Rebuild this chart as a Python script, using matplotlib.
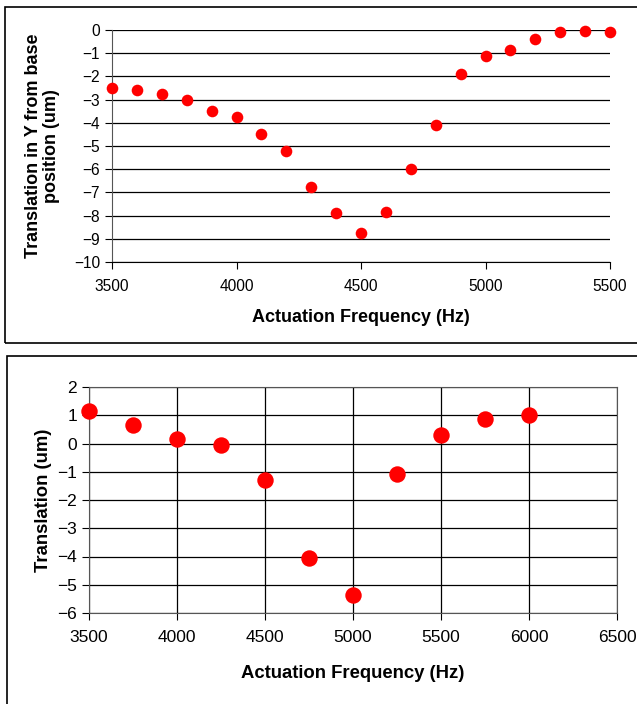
import matplotlib.pyplot as plt
from matplotlib.patches import Rectangle

plt.rcParams['font.family'] = ['Liberation Sans', 'DejaVu Sans']

# top chart data
freq_top = [3500, 3600, 3700, 3800, 3900, 4000, 4100, 4200, 4300, 4400, 4500,
            4600, 4700, 4800, 4900, 5000, 5100, 5200, 5300, 5400, 5500]
trans_top = [-2.5, -2.6, -2.78, -3.0, -3.47, -3.73, -4.48, -5.2, -6.77, -7.9, -8.73,
             -7.83, -5.98, -4.08, -1.9, -1.13, -0.87, -0.4, -0.08, -0.05, -0.08]

# bottom chart data
freq_bot = [3500, 3750, 4000, 4250, 4500, 4750, 5000, 5250, 5500, 5750, 6000]
trans_bot = [1.15, 0.65, 0.15, -0.05, -1.3, -4.05, -5.35, -1.08, 0.3, 0.85, 1.0]

W, H = 637, 704
fig = plt.figure(figsize=(W / 100, H / 100), dpi=100)

# panel borders
fig.patches.append(Rectangle((5 / W, 1 - 343 / H), 1.0, (343 - 7) / H,
                             transform=fig.transFigure, fill=False, ec='black', lw=1.2))
fig.patches.append(Rectangle((7 / W, -0.01), 1.0, 1 - 356 / H + 0.01,
                             transform=fig.transFigure, fill=False, ec='black', lw=1.2))

# ---- top chart ----
ax1 = fig.add_axes([112 / W, 1 - 262 / H, (610 - 112) / W, 232 / H])
ax1.scatter(freq_top, trans_top, s=70, color='#ff0000', zorder=3, clip_on=False, linewidths=0)
ax1.set_xlim(3500, 5500)
ax1.set_ylim(-10, 0)
ax1.set_xticks(range(3500, 5501, 500))
ax1.set_yticks(range(-10, 1))
ax1.yaxis.grid(True, color='black', lw=0.9)
ax1.set_axisbelow(True)
for s in ['top', 'right']:
    ax1.spines[s].set_visible(False)
ax1.spines['left'].set_color('#555555')
ax1.spines['bottom'].set_color('black')
ax1.tick_params(direction='out', length=5, labelsize=11.2, color='black')
ax1.tick_params(axis='x', pad=7)
ax1.set_xlabel('Actuation Frequency (Hz)', fontsize=13, fontweight='bold', labelpad=11)
ax1.set_ylabel('Translation in Y from base\nposition (um)', fontsize=13,
               fontweight='bold', labelpad=10, linespacing=1.1)

# ---- bottom chart ----
ax2 = fig.add_axes([89 / W, 1 - 613 / H, (617 - 89) / W, 226 / H])
ax2.scatter(freq_bot, trans_bot, s=140, color='#ff0000', zorder=3, clip_on=False, linewidths=0)
ax2.set_xlim(3500, 6500)
ax2.set_ylim(-6, 2)
ax2.set_xticks(range(3500, 6501, 500))
ax2.set_yticks(range(-6, 3))
ax2.grid(True, color='black', lw=0.9)
ax2.set_axisbelow(True)
for s in ax2.spines.values():
    s.set_color('#555555')
ax2.tick_params(direction='out', length=5, labelsize=12.5, color='black')
ax2.tick_params(axis='x', pad=7)
ax2.set_xlabel('Actuation Frequency (Hz)', fontsize=13.3, fontweight='bold', labelpad=15)
ax2.set_ylabel('Translation (um)', fontsize=13.3, fontweight='bold', labelpad=4)

fig.savefig('out.png', dpi=100)
